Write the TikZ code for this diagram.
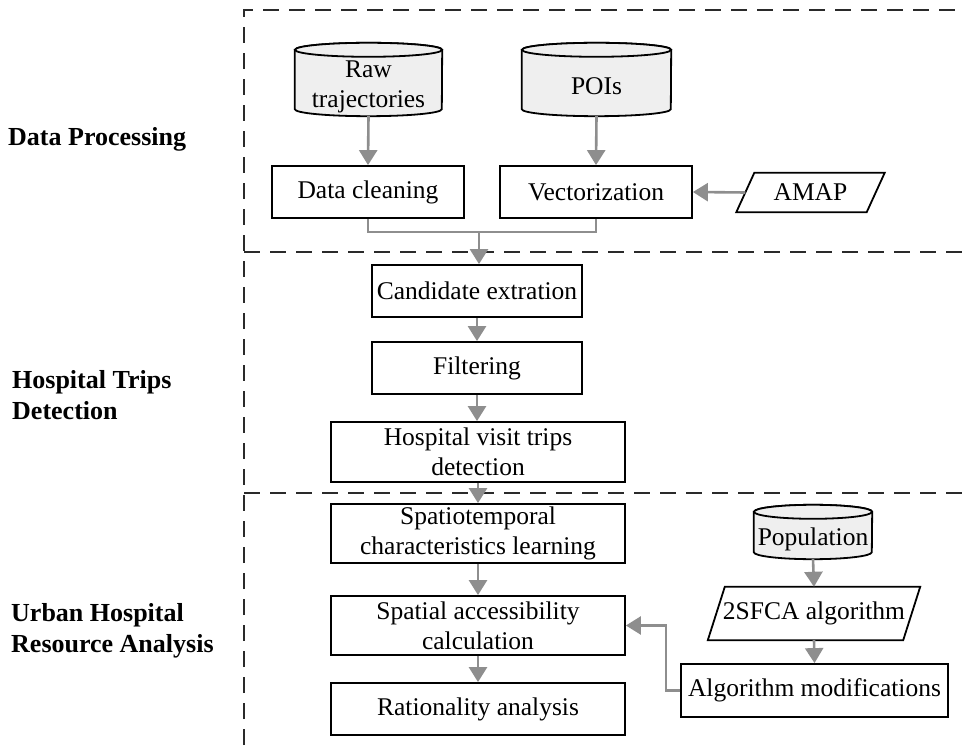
\documentclass[tikz,border=0pt]{standalone}
\usepackage{fontspec}
\setmainfont{Liberation Serif}
\usetikzlibrary{arrows.meta,calc,backgrounds}
\definecolor{arrgray}{HTML}{8E8E8E}
\definecolor{cylfill}{HTML}{EFEFEF}
\definecolor{dashcol}{HTML}{2A2A2A}
\newcommand\dbcyl[2]{%
 \draw[line width=1.8pt, fill=cylfill] ([yshift=7pt]#1.north west) -- ([yshift=7pt]#1.south west)
   arc[start angle=180,end angle=360,x radius=#2pt,y radius=7pt] -- ([yshift=7pt]#1.north east)
   arc[start angle=0,end angle=180,x radius=#2pt,y radius=7pt] -- cycle;
 \draw[line width=1.8pt, fill=cylfill] ([yshift=7pt]#1.north) ellipse[x radius=#2pt,y radius=7pt];}
\newcommand\paragr[2]{%
 \draw[line width=1.8pt, fill=white] ([xshift=-#2pt]#1.south west) -- ([xshift=#2pt]#1.north west)
   -- ([xshift=#2pt]#1.north east) -- ([xshift=-#2pt]#1.south east) -- cycle;}
\begin{document}
\begin{tikzpicture}[x=1pt,y=1pt,
 boxnode/.style={draw=black, line width=1.8pt, fill=white, align=center, inner sep=0pt, font=\fontsize{25.5}{30}\selectfont},
 textnode/.style={align=center, inner sep=0pt, font=\fontsize{25.5}{30}\selectfont},
 garrow/.style={draw=arrgray, line width=2.6pt, -{Triangle[width=18pt,length=15pt]}},
 gline/.style={draw=arrgray, line width=2.4pt},
 sepline/.style={draw=dashcol, line width=1.8pt, dash pattern=on 16pt off 10pt},
 lbl/.style={anchor=west, align=left, inner sep=0pt, font=\fontsize{26}{31}\selectfont\bfseries}]
\useasboundingbox (0,0) rectangle (964,745);

% separators
\draw[sepline] (244,0) -- (244,735) -- (964,735);
\draw[sepline] (244,493) -- (964,493);
\draw[sepline] (244,252) -- (964,252);

% section labels
\node[lbl] (l1) at (8,606) {Data Processing};
\node[lbl] (l2) at (12,350) {Hospital Trips\\Detection};
\node[lbl] (l3) at (11,114) {Urban Hospital\\Resource Analysis};

% data processing
\node[textnode, minimum width=147pt, minimum height=59pt] (raw) at (368.5,658.5) {Raw\\trajectories};
\node[textnode, minimum width=149pt, minimum height=59pt] (poi) at (596.5,658.5) {POIs};
\node[boxnode, minimum width=192pt, minimum height=52pt] (clean) at (368,553) {Data cleaning};
\node[boxnode, minimum width=192pt, minimum height=52pt] (vect) at (596,553) {Vectorization};
\node[textnode, minimum width=130pt, minimum height=39pt] (amap) at (810.5,552.5) {AMAP};

% hospital trips
\node[boxnode, minimum width=210pt, minimum height=52pt] (cand) at (477,454) {Candidate extration};
\node[boxnode, minimum width=210pt, minimum height=52pt] (filt) at (477,377) {Filtering};
\node[boxnode, minimum width=294pt, minimum height=60pt] (hosp) at (478,293) {Hospital visit trips\\detection};

% resource analysis
\node[boxnode, minimum width=294pt, minimum height=59pt] (spt) at (478,211.5) {Spatiotemporal\\characteristics learning};
\node[boxnode, minimum width=294pt, minimum height=59pt] (spa) at (478,119.5) {Spatial accessibility\\calculation};
\node[boxnode, minimum width=294pt, minimum height=52pt] (rat) at (478,36) {Rationality analysis};
\node[textnode, minimum width=118pt, minimum height=40pt] (pop) at (813,206) {Population};
\node[textnode, minimum width=195pt, minimum height=53pt] (sfca) at (814,131.5) {2SFCA algorithm};
\node[boxnode, minimum width=267pt, minimum height=53pt] (alg) at (814.5,54.5) {Algorithm modifications};

\begin{scope}[on background layer]
 \dbcyl{raw}{73.5}
 \dbcyl{poi}{74.5}
 \dbcyl{pop}{59}
 \paragr{amap}{9}
 \paragr{sfca}{8.5}
\end{scope}

\coordinate (mj) at (479,513);

% connectors
\draw[garrow] (raw.south) -- (clean.north);
\draw[garrow] (poi.south) -- (vect.north);
\draw[garrow] (amap.west) -- (vect.east);
\draw[gline] (clean.south) |- (vect.south |- mj) -- (vect.south);
\draw[garrow] (mj) -- (mj |- cand.north);
\draw[garrow] (cand.south) -- (filt.north);
\draw[garrow] (filt.south) -- (filt.south |- hosp.north);
\draw[garrow] (hosp.south) -- (spt.north);
\draw[garrow] (spt.south) -- (spa.north);
\draw[garrow] (spa.south) -- (rat.north);
\draw[garrow] (pop.south) -- (sfca.north);
\draw[garrow] (sfca.south) -- (alg.north);
\draw[garrow] (alg.west) -- ++(-14,0) |- (spa.east);
\end{tikzpicture}
\end{document}
